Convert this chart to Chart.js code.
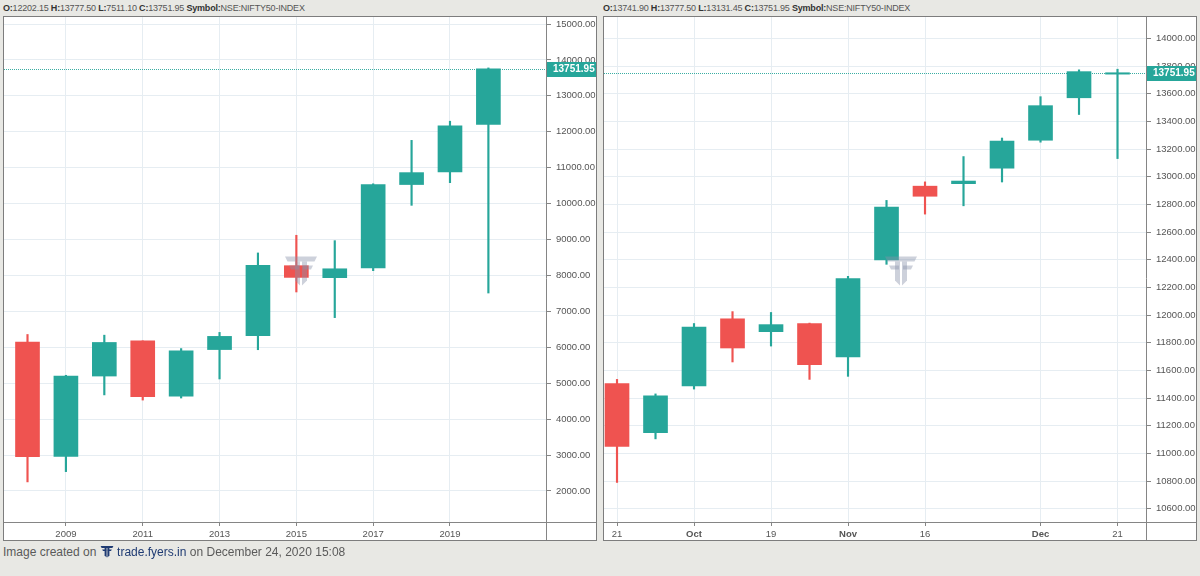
<!DOCTYPE html>
<html>
<head>
<meta charset="utf-8">
<script src="https://cdn.jsdelivr.net/npm/chart.js@4.4.1/dist/chart.umd.min.js"></script>
<style>
    body { margin: 0; width: 1200px; height: 576px; background: #e8e8e4; position: relative; overflow: hidden; font-family: 'Liberation Sans', Arial, sans-serif; }
    .hdr { position: absolute; top: 3px; font-size: 9px; letter-spacing: -0.2px; color: #555; white-space: nowrap; }
    .hdr b { color: #333; }
    .panel { position: absolute; top: 16px; width: 594px; height: 525px; border: 1px solid #7d7d7d; box-sizing: border-box; background: #fff; }
    .panel canvas { display: block; }
    .foot { position: absolute; left: 3px; top: 545px; font-size: 12px; color: #5a5a5a; white-space: nowrap; }
    .foot .brand { color: #1f3b73; }
    .foot canvas { vertical-align: -2px; }
</style>
</head>
<body>
<div class="hdr" style="left:3px"><b>O:</b>12202.15 <b>H:</b>13777.50 <b>L:</b>7511.10 <b>C:</b>13751.95 <b>Symbol:</b>NSE:NIFTY50-INDEX</div>
<div class="hdr" style="left:603px"><b>O:</b>13741.90 <b>H:</b>13777.50 <b>L:</b>13131.45 <b>C:</b>13751.95 <b>Symbol:</b>NSE:NIFTY50-INDEX</div>
<div class="panel" style="left:3px"><canvas id="yearly" width="592" height="523"></canvas></div>
<div class="panel" style="left:603px"><canvas id="weekly" width="592" height="523"></canvas></div>
<div class="foot">Image created on <canvas id="logo" width="14" height="13"></canvas> <span class="brand">trade.fyers.in</span> on December 24, 2020 15:08</div>

<script>
// yearly candles (left)
const years = [2008, 2009, 2010, 2011, 2012, 2013, 2014, 2015, 2016, 2017, 2018, 2019, 2020];
const yOpen  = [6144, 2963, 5200, 6177, 4640, 5937, 6323, 8272, 7938, 8210, 10531, 10881, 12202.15];
const yHigh  = [6357, 5221, 6338, 6181, 5965, 6415, 8627, 9119, 8969, 10552, 11761, 12294, 13777.5];
const yLow   = [2253, 2539, 4675, 4531, 4588, 5118, 5933, 7540, 6826, 8133, 9952, 10583, 7511.1];
const yClose = [2959, 5201, 6135, 4624, 5905, 6304, 8283, 7946, 8186, 10531, 10863, 12168, 13751.95];
const yearTicks = [2009, 2011, 2013, 2015, 2017, 2019];
const yearPriceTicks = [2000, 3000, 4000, 5000, 6000, 7000, 8000, 9000, 10000, 11000, 12000, 13000, 14000, 15000];

// weekly candles (right)
const weeks  = ['2020-09-21', '2020-09-28', '2020-10-05', '2020-10-12', '2020-10-19', '2020-10-26', '2020-11-02',
                '2020-11-09', '2020-11-16', '2020-11-23', '2020-11-30', '2020-12-07', '2020-12-14', '2020-12-21'];
const wOpen  = [11505, 11150, 11488, 11973, 11880, 11938, 11697, 12399, 12932, 12950, 13062, 13264, 13571, 13741.9];
const wHigh  = [11535, 11430, 11939, 12025, 12019, 11942, 12280, 12829, 12963, 13146, 13280, 13579, 13773, 13777.5];
const wLow   = [10790, 11105, 11465, 11661, 11776, 11535, 11557, 12367, 12730, 12790, 12962, 13250, 13450, 13131.45];
const wClose = [11050, 11417, 11914, 11762, 11931, 11642, 12264, 12780, 12859, 12969, 13258, 13514, 13760, 13751.95];
const weekTickIdx = [0, 2, 4, 6, 8, 11, 13];
const weekTickText = ['21', 'Oct', '19', 'Nov', '16', 'Dec', '21'];
const weekPriceTicks = [10600, 10800, 11000, 11200, 11400, 11600, 11800, 12000, 12200, 12400, 12600, 12800, 13000, 13200, 13400, 13600, 13800, 14000];

const lastClose = 13751.95;

const UP = '#26a69a';
const DOWN = '#ef5350';
const GRID = '#e6edf2';
const AXIS = '#858585';
const TICK_FONT = { family: "'Liberation Sans', Arial, sans-serif", size: 9.5 };

// fyers logo as polygons, roughly 32 x 29 units
const logoShapes = [
    [[-16, -14], [16, -14], [13.5, -9], [-13.5, -9]],
    [[-12, -5], [-2, -5], [-2, -1], [-10, -1]],
    [[2, -5], [12, -5], [10, -1], [2, -1]],
    [[-6, -9], [-1, -9], [-1, 15], [-6, 10]],
    [[1, -9], [6, -9], [6, 10], [1, 15]]
];

function drawLogo(ctx, cx, cy, s, color) {
    ctx.save();
    ctx.fillStyle = color;
    logoShapes.forEach(poly => {
        ctx.beginPath();
        poly.forEach((p, i) => {
            const x = cx + p[0] * s, y = cy + p[1] * s;
            if (i === 0) ctx.moveTo(x, y); else ctx.lineTo(x, y);
        });
        ctx.closePath();
        ctx.fill();
    });
    ctx.restore();
}

const panelPlugin = {
    id: 'panel',
    beforeDatasetsDraw(chart) {
        const { ctx, chartArea } = chart;
        const y = Math.round(chart.scales.y.getPixelForValue(lastClose)) + 0.5;
        ctx.save();
        ctx.strokeStyle = '#3aaea3';
        ctx.lineWidth = 1;
        ctx.setLineDash([1, 1]);
        ctx.beginPath();
        ctx.moveTo(chartArea.left, y);
        ctx.lineTo(chartArea.right, y);
        ctx.stroke();
        ctx.restore();
    },
    afterDatasetsDraw(chart) {
        const { ctx, chartArea, width } = chart;
        drawLogo(ctx, width / 2 + 1, (chartArea.top + chartArea.bottom) / 2 + 1, 1, 'rgba(135,145,170,0.42)');
    },
    afterDraw(chart) {
        const { ctx, chartArea, width, height } = chart;
        ctx.save();
        ctx.strokeStyle = AXIS;
        ctx.lineWidth = 1;
        ctx.beginPath();
        ctx.moveTo(chartArea.right + 0.5, 0);
        ctx.lineTo(chartArea.right + 0.5, height);
        ctx.moveTo(0, chartArea.bottom + 0.5);
        ctx.lineTo(width, chartArea.bottom + 0.5);
        ctx.stroke();

        const y = Math.round(chart.scales.y.getPixelForValue(lastClose));
        ctx.fillStyle = UP;
        ctx.fillRect(chartArea.right + 1, y - 7, width - chartArea.right - 1, 15);
        ctx.fillStyle = '#ffffff';
        ctx.font = "bold 10px 'Liberation Sans', Arial, sans-serif";
        ctx.textBaseline = 'middle';
        ctx.fillText(lastClose.toFixed(2), chartArea.right + 7, y + 0.5);
        ctx.restore();
    }
};

function candleDatasets(xs, o, h, l, c) {
    const colors = o.map((v, i) => c[i] >= v ? UP : DOWN);
    return [
        {
            data: xs.map((x, i) => ({ x: x, y: [o[i], c[i]] })),
            backgroundColor: colors,
            borderWidth: 0,
            barThickness: 24,
            grouped: false
        },
        {
            data: xs.map((x, i) => ({ x: x, y: [l[i], h[i]] })),
            backgroundColor: colors,
            borderWidth: 0,
            barThickness: 1.5,
            grouped: false
        }
    ];
}

function makeChart(id, xs, o, h, l, c, xOpts, yOpts) {
    const ctx = document.getElementById(id).getContext('2d');
    return new Chart(ctx, {
        type: 'bar',
        data: { datasets: candleDatasets(xs, o, h, l, c) },
        options: {
            responsive: false,
            animation: false,
            devicePixelRatio: 1,
            layout: { padding: 0 },
            plugins: { legend: { display: false }, tooltip: { enabled: false } },
            scales: {
                x: Object.assign({
                    type: 'linear',
                    offset: false,
                    border: { display: false },
                    grid: { color: GRID, offset: false, drawTicks: true, tickLength: 4, tickColor: AXIS },
                    afterFit: scale => {
                        scale.height = 18;
                        scale.paddingLeft = 0;
                        scale.paddingRight = 0;
                    }
                }, xOpts),
                y: Object.assign({
                    type: 'linear',
                    position: 'right',
                    beginAtZero: false,
                    border: { display: false },
                    grid: { color: GRID, drawTicks: true, tickLength: 5, tickColor: AXIS },
                    ticks: {
                        color: '#555',
                        font: TICK_FONT,
                        padding: 5,
                        callback: v => Number(v).toFixed(2)
                    },
                    afterFit: scale => {
                        scale.width = 50;
                        scale.paddingTop = 0;
                        scale.paddingBottom = 0;
                    }
                }, yOpts)
            }
        },
        plugins: [panelPlugin]
    });
}

makeChart('yearly', years, yOpen, yHigh, yLow, yClose,
    {
        min: 2007.388, max: 2021.5,
        afterBuildTicks: scale => { scale.ticks = yearTicks.map(v => ({ value: v })); },
        ticks: { color: '#555', font: TICK_FONT, padding: 3, maxRotation: 0, callback: v => String(v) }
    },
    {
        min: 1137, max: 15195,
        afterBuildTicks: scale => { scale.ticks = yearPriceTicks.map(v => ({ value: v })); }
    });

makeChart('weekly', weeks.map((w, i) => i), wOpen, wHigh, wLow, wClose,
    {
        min: -0.338, max: 13.74,
        afterBuildTicks: scale => { scale.ticks = weekTickIdx.map(v => ({ value: v })); },
        ticks: {
            color: '#555',
            padding: 3,
            maxRotation: 0,
            font: c => ({ family: TICK_FONT.family, size: 9.5, weight: /[A-Za-z]/.test(weekTickText[c.index] || '') ? 'bold' : 'normal' }),
            callback: (v, i) => weekTickText[i]
        }
    },
    {
        min: 10504, max: 14155,
        afterBuildTicks: scale => { scale.ticks = weekPriceTicks.map(v => ({ value: v })); }
    });

drawLogo(document.getElementById('logo').getContext('2d'), 7, 6.5, 0.4, '#1f3b73');
</script>
</body>
</html>
